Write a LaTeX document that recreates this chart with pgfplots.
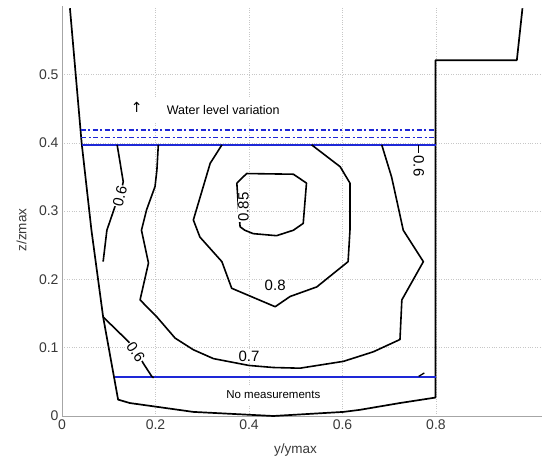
\documentclass[border=0pt]{standalone}
\usepackage{fontspec}
\setmainfont{Liberation Sans}
\newfontfamily\dejavu{DejaVu Sans}
\usepackage{pgfplots}
\pgfplotsset{compat=1.18}
\definecolor{cblue}{RGB}{30,40,215}
\begin{document}
\begin{tikzpicture}
\begin{axis}[
  at={(0,0)}, anchor=south west, scale only axis,
  width=481.5pt, height=409.8pt,
  xmin=0, xmax=1.03, ymin=0, ymax=0.6,
  axis x line*=bottom, axis y line*=left,
  axis line style={draw=black!35, line width=0.9pt},
  major tick length=0pt,
  xtick={0,0.2,0.4,0.6,0.8}, ytick={0,0.1,0.2,0.3,0.4,0.5},
  grid=major, grid style={dotted, black!22, line width=0.45pt},
  /pgf/number format/assume math mode=true,
  ticklabel style={font=\fontsize{14}{14}\selectfont, text=black!78},
  xlabel={y/ymax}, ylabel={z/zmax},
  label style={font=\fontsize{13.5}{14}\selectfont, text=black!78},
  xlabel style={at={(axis description cs:0.485,0)}, anchor=north, yshift=-24pt},
  ylabel style={at={(axis description cs:0,0.454)}, anchor=south, xshift=0pt, yshift=32pt},
  every axis plot/.append style={line join=round},
]
% bed / boundary
\addplot[black, line width=1.7pt] coordinates {
 (0.017,0.597) (0.042,0.40) (0.063,0.272) (0.088,0.145) (0.120,0.024) (0.145,0.019)
 (0.281,0.006) (0.452,0.0) (0.602,0.006) (0.637,0.009) (0.723,0.019) (0.799,0.027)
 (0.799,0.521) (0.973,0.521) (0.985,0.597)};
% blue lines
\addplot[draw=cblue, line width=1.8pt] coordinates {(0.042,0.397) (0.799,0.397)};
\addplot[draw=cblue, line width=1.9pt] coordinates {(0.113,0.0565) (0.799,0.0565)};
\addplot[draw=cblue, line width=1.6pt, dash pattern=on 5pt off 2.5pt on 2pt off 2.5pt] coordinates {(0.040,0.419) (0.799,0.419)};
\addplot[draw=cblue, line width=1.6pt, dash pattern=on 5pt off 2.5pt on 2pt off 2.5pt] coordinates {(0.041,0.408) (0.799,0.408)};
% contour 0.6 left upper
\addplot[black, line width=1.6pt] coordinates {
 (0.118,0.397) (0.131,0.343) (0.124,0.321) (0.113,0.306) (0.096,0.272) (0.088,0.226)};
% contour 0.6 lower
\addplot[black, line width=1.6pt] coordinates {
 (0.088,0.145) (0.142,0.109) (0.160,0.094) (0.174,0.077) (0.192,0.058) (0.196,0.056)};
% contour 0.6 right
\addplot[black, line width=1.6pt] coordinates {(0.763,0.397) (0.763,0.385)};
\addplot[black, line width=1.3pt] coordinates {(0.763,0.058) (0.775,0.063)};
% contour 0.7
\addplot[black, line width=1.6pt] coordinates {
 (0.206,0.397) (0.203,0.360) (0.199,0.336) (0.181,0.302) (0.170,0.272) (0.185,0.224)
 (0.167,0.170) (0.203,0.145) (0.242,0.114) (0.281,0.097) (0.324,0.084) (0.40,0.074)
 (0.452,0.071) (0.509,0.070) (0.602,0.080) (0.666,0.094) (0.723,0.112) (0.727,0.170)
 (0.773,0.226) (0.730,0.272) (0.716,0.316) (0.705,0.350) (0.684,0.397)};
% contour 0.8
\addplot[black, line width=1.6pt] coordinates {
 (0.342,0.397) (0.331,0.385) (0.317,0.370) (0.281,0.287) (0.295,0.262) (0.342,0.226)
 (0.363,0.187) (0.456,0.160) (0.488,0.175) (0.545,0.189) (0.612,0.226) (0.616,0.272)
 (0.616,0.341) (0.595,0.365) (0.534,0.397)};
% contour 0.85
\addplot[black, line width=1.6pt] coordinates {
 (0.374,0.341) (0.395,0.355) (0.495,0.354) (0.523,0.341) (0.520,0.316) (0.516,0.282)
 (0.495,0.272) (0.459,0.264) (0.409,0.267) (0.391,0.272) (0.381,0.277) (0.378,0.300)
 (0.374,0.341)};
% contour labels
\begin{scope}[every node/.style={font=\fontsize{15}{15}\selectfont, fill=white, inner sep=0.5pt}]
\node[rotate=76] at (axis cs:0.124,0.322) {0.6};
\node[rotate=-56] at (axis cs:0.158,0.094) {0.6};
\node[rotate=-90] at (axis cs:0.763,0.366) {0.6};
\node at (axis cs:0.40,0.088) {0.7};
\node at (axis cs:0.456,0.192) {0.8};
\node[rotate=90] at (axis cs:0.388,0.306) {0.85};
\end{scope}
% annotations
\node[fill=white, inner xsep=30pt, inner ysep=6pt, font=\fontsize{12.5}{13}\selectfont, anchor=center] at (axis cs:0.345,0.448) {Water level variation};
\node[font=\dejavu\fontsize{14}{14}\selectfont] at (axis cs:0.160,0.452) {↑};
\node[fill=white, inner xsep=10pt, inner ysep=6pt, font=\fontsize{11.5}{12}\selectfont] at (axis cs:0.452,0.031) {No measurements};
\end{axis}
\pgfresetboundingbox
\path[use as bounding box] (-62pt,-43pt) rectangle (480pt,416pt);
\end{tikzpicture}
\end{document}
